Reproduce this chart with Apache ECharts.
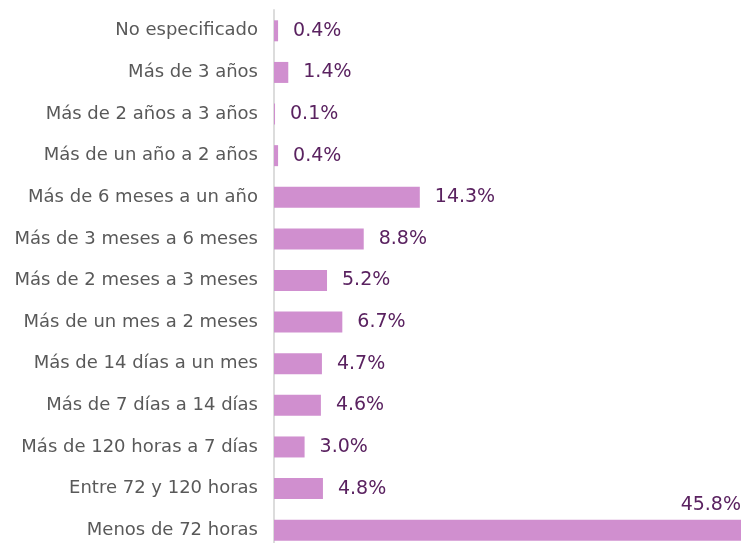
<!DOCTYPE html>
<html>
<head>
<meta charset="utf-8">
<script src="https://cdn.jsdelivr.net/npm/echarts@6/dist/echarts.min.js"></script>
<style>
html, body { margin: 0; padding: 0; background: #fff; }
#main { width: 748px; height: 543px; }
</style>
</head>
<body>
<div id="main"></div>
<script>
// categorías de arriba hacia abajo
var categorias = [
  "No especificado",
  "Más de 3 años",
  "Más de 2 años a 3 años",
  "Más de un año a 2 años",
  "Más de 6 meses a un año",
  "Más de 3 meses a 6 meses",
  "Más de 2 meses a 3 meses",
  "Más de un mes a 2 meses",
  "Más de 14 días a un mes",
  "Más de 7 días a 14 días",
  "Más de 120 horas a 7 días",
  "Entre 72 y 120 horas",
  "Menos de 72 horas"
];
var porcentajes = [0.4, 1.4, 0.1, 0.4, 14.3, 8.8, 5.2, 6.7, 4.7, 4.6, 3.0, 4.8, 45.8];

var chart = echarts.init(document.getElementById('main'));

var datos = porcentajes.map(function (v, i) {
  var item = { value: v };
  if (i === porcentajes.length - 1) {
    // la barra más larga lleva la etiqueta encima
    item.label = { position: ['100%', -5], align: 'right', verticalAlign: 'bottom' };
  }
  return item;
});

var option = {
  animation: false,
  grid: { left: 274, right: 7, top: 10, height: 541, outerBoundsMode: 'none' },
  xAxis: {
    type: 'value',
    min: 0,
    max: 45.8,
    show: false
  },
  yAxis: {
    type: 'category',
    inverse: true,
    data: categorias,
    axisLine: { show: true, lineStyle: { color: '#dcdcdc', width: 2 } },
    axisTick: { show: false },
    axisLabel: {
      margin: 16,
      color: '#595959',
      fontSize: 18,
      fontFamily: 'DejaVu Sans'
    }
  },
  series: [{
    type: 'bar',
    data: datos,
    barWidth: 21,
    itemStyle: { color: '#d08fcf' },
    label: {
      show: true,
      position: 'right',
      distance: 15,
      color: '#5a2260',
      fontSize: 19,
      fontFamily: 'DejaVu Sans',
      formatter: function (p) { return p.value.toFixed(1) + '%'; }
    }
  }]
};

chart.setOption(option);
</script>
</body>
</html>
